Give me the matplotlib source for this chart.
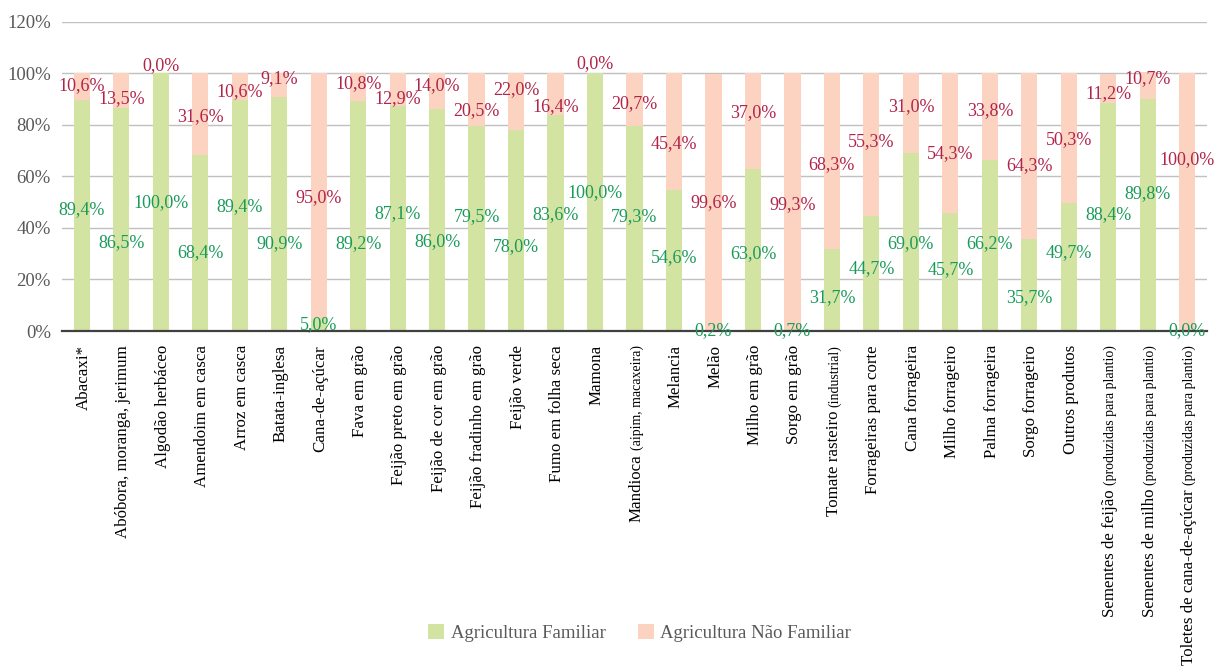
import matplotlib
matplotlib.use("Agg")
import matplotlib.pyplot as plt
from matplotlib.patches import Patch

categories = [
    "Abacaxi*", "Abóbora, moranga, jerimum", "Algodão herbáceo", "Amendoim em casca",
    "Arroz em casca", "Batata-inglesa", "Cana-de-açúcar", "Fava em grão",
    "Feijão preto em grão", "Feijão de cor em grão", "Feijão fradinho em grão",
    "Feijão verde", "Fumo em folha seca", "Mamona", "Mandioca (aipim, macaxeira)",
    "Melancia", "Melão", "Milho em grão", "Sorgo em grão", "Tomate rasteiro (industrial)",
    "Forrageiras para corte", "Cana forrageira", "Milho forrageiro", "Palma forrageira",
    "Sorgo forrageiro", "Outros produtos", "Sementes de feijão (produzidas para plantio)",
    "Sementes de milho (produzidas para plantio)",
    "Toletes de cana-de-açúcar (produzidas para plantio)",
]
familiar = [89.4, 86.5, 100.0, 68.4, 89.4, 90.9, 5.0, 89.2, 87.1, 86.0, 79.5, 78.0,
            83.6, 100.0, 79.3, 54.6, 0.2, 63.0, 0.7, 31.7, 44.7, 69.0, 45.7, 66.2,
            35.7, 49.7, 88.4, 89.8, 0.0]
nao_familiar = [10.6, 13.5, 0.0, 31.6, 10.6, 9.1, 95.0, 10.8, 12.9, 14.0, 20.5, 22.0,
                16.4, 0.0, 20.7, 45.4, 99.6, 37.0, 99.3, 68.3, 55.3, 31.0, 54.3, 33.8,
                64.3, 50.3, 11.2, 10.7, 100.0]
series_names = ["Agricultura Familiar", "Agricultura Não Familiar"]
y_ticks = [0, 20, 40, 60, 80, 100, 120]

# label placement (layout, as in the reference)
fam_label_y = [47.2, 34.4, 49.6, 30.5, 48.2, 33.7, 2.3, 34.0, 45.6, 34.6, 44.3, 32.9,
               45.0, 53.6, 44.2, 28.3, 0.3, 30.2, 0.3, 13.0, 24.3, 34.0, 23.9, 33.7,
               13.0, 30.5, 45.3, 53.4, 0.3]
nf_label_y = [95.3, 90.0, 102.8, 83.0, 92.8, 97.7, 51.8, 96.0, 90.2, 95.3, 85.4, 93.7,
              87.0, 103.5, 88.2, 72.5, 49.6, 84.6, 49.2, 64.5, 73.4, 87.0, 68.6, 85.3,
              64.0, 74.3, 91.9, 97.7, 66.3]

GREEN = "#d3e4a2"
PINK = "#fcd3c1"
GREEN_TXT = "#1a9a5a"
RED_TXT = "#b0244a"
GRAY_TXT = "#595959"
SERIF = "Liberation Serif"

fig = plt.figure(figsize=(12.23, 6.68), dpi=100)
ax = fig.add_axes([62 / 1223, 1 - 331 / 668, (1207 - 62) / 1223, (331 - 21.5) / 668])

x = list(range(len(categories)))
ax.bar(x, familiar, width=0.41, color=GREEN, zorder=2)
ax.bar(x, nao_familiar, bottom=familiar, width=0.41, color=PINK, zorder=2)

ax.set_xlim(-0.5, len(categories) - 0.5)
ax.set_ylim(0, 120)
ax.set_yticks(y_ticks)
ax.set_yticklabels([f"{t}%" for t in y_ticks], fontsize=13.5, color=GRAY_TXT, family=SERIF)
ax.tick_params(axis="y", length=0, pad=8)
ax.tick_params(axis="x", length=0, labelbottom=False)
ax.set_xticks(x)
ax.grid(axis="y", color="#c0c0c0", linewidth=1.0, zorder=0)
ax.set_axisbelow(True)
for s in ["top", "right", "left"]:
    ax.spines[s].set_visible(False)
ax.spines["bottom"].set_color("#404040")
ax.spines["bottom"].set_linewidth(1.6)
ax.spines["bottom"].set_zorder(3)


def fmt(v):
    return f"{v:.1f}%".replace(".", ",")


for i in x:
    ax.text(i, fam_label_y[i], fmt(familiar[i]), ha="center", va="center",
            fontsize=13, color=GREEN_TXT, family=SERIF, zorder=4, clip_on=False)
    ax.text(i, nf_label_y[i], fmt(nao_familiar[i]), ha="center", va="center",
            fontsize=13, color=RED_TXT, family=SERIF, zorder=4, clip_on=False)

# category labels: text reads bottom-to-top, so the end of the string (the
# smaller parenthetical part) sits next to the axis and the main part below it
MAIN_FS = 12.2
PAREN_FS = 10.0
TOP_PTS = -10
XOFF = 4.2
pending = []
for i, cat in enumerate(categories):
    if "(" in cat:
        main, paren = cat.split("(", 1)
        paren = "(" + paren
        t = ax.annotate(paren, xy=(i, 0), xycoords=("data", "axes fraction"),
                        xytext=(XOFF, TOP_PTS), textcoords="offset points",
                        rotation=90, rotation_mode="anchor", ha="right", va="baseline",
                        fontsize=PAREN_FS, family=SERIF, color="black",
                        annotation_clip=False)
        pending.append((i, t, main.strip()))
    else:
        ax.annotate(cat, xy=(i, 0), xycoords=("data", "axes fraction"),
                    xytext=(XOFF, TOP_PTS), textcoords="offset points",
                    rotation=90, rotation_mode="anchor", ha="right", va="baseline",
                    fontsize=MAIN_FS, family=SERIF, color="black", annotation_clip=False)

fig.canvas.draw()
renderer = fig.canvas.get_renderer()
ax_bottom_px = ax.transAxes.transform((0, 0))[1]
for i, t, main in pending:
    bb = t.get_window_extent(renderer)
    dy_pts = (bb.y0 - ax_bottom_px) * 72 / fig.dpi - 3.0
    ax.annotate(main, xy=(i, 0), xycoords=("data", "axes fraction"),
                xytext=(XOFF, dy_pts), textcoords="offset points",
                rotation=90, rotation_mode="anchor", ha="right", va="baseline",
                fontsize=MAIN_FS, family=SERIF, color="black",
                annotation_clip=False)

handles = [Patch(facecolor=GREEN, edgecolor="none"), Patch(facecolor=PINK, edgecolor="none")]
leg = fig.legend(handles, series_names, loc="center", bbox_to_anchor=(0.523, 0.052),
                 ncol=2, frameon=False, handlelength=0.85, handleheight=0.85,
                 handletextpad=0.35, columnspacing=1.7,
                 prop={"family": SERIF, "size": 13.5})
for txt in leg.get_texts():
    txt.set_color(GRAY_TXT)

fig.savefig("out.png", dpi=100)
